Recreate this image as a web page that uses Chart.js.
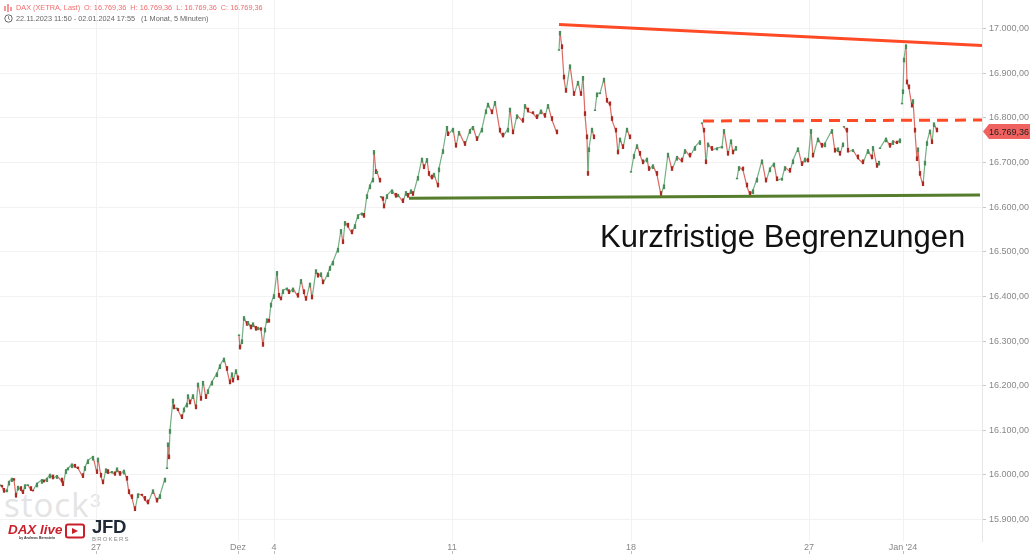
<!DOCTYPE html>
<html>
<head>
<meta charset="utf-8">
<script src="https://cdn.jsdelivr.net/npm/chart.js@4"></script>
<style>
  html, body { margin: 0; padding: 0; background: #fff; overflow: hidden; }
  body { width: 1030px; height: 554px; position: relative; font-family: "Liberation Sans", sans-serif; filter: blur(0.35px); }
  canvas { position: absolute; left: 0; top: 0; }
  .txt { position: absolute; white-space: nowrap; }
  #head1 { left: 16px; top: 3px; font-size: 7.3px; line-height: 10px; color: #f26d6d; }
  #head2 { left: 16px; top: 14px; font-size: 7.3px; line-height: 10px; color: #666; }
  #note { left: 600px; top: 218px; font-size: 31px; line-height: 38px; color: #111; }
  #stock { left: 4px; top: 483px; font-size: 33px; line-height: 44px; color: #e4e4e4; font-family: "Open Sans", sans-serif; font-weight: 400; letter-spacing: 1px; }
  #stock3 { left: 90px; top: 490px; font-size: 19px; line-height: 22px; color: #e4e4e4; }
  #dax { left: 8px; top: 521px; font-size: 13.4px; line-height: 17px; font-weight: bold; font-style: italic; color: #c9202c; }
  #daxby { left: 19px; top: 536px; font-size: 3.5px; line-height: 5px; font-weight: bold; color: #333; }
  #jfd { left: 92px; top: 516px; font-size: 18.6px; line-height: 22px; font-weight: bold; color: #1f2a36; letter-spacing: -0.3px; }
  #brokers { left: 92px; top: 536px; font-size: 6px; line-height: 7px; color: #8a8a8a; letter-spacing: 1.2px; }
  svg { position: absolute; }
</style>
</head>
<body>
<div class="txt" id="stock">stock</div>
<div class="txt" id="stock3">3</div>
<canvas id="chart" width="1030" height="554"></canvas>
<svg style="left:4px;top:4px" width="8" height="8" viewBox="0 0 8 8"><path d="M1 2v5M4 0v8M7 3v4" stroke="#f26d6d" stroke-width="1.4"/></svg>
<svg style="left:4px;top:14px" width="9" height="9" viewBox="0 0 9 9"><circle cx="4.5" cy="4.5" r="3.7" fill="none" stroke="#666"/><path d="M4.5 2.2v2.5l1.6 1" fill="none" stroke="#666" stroke-width="0.8"/></svg>
<div class="txt" id="head1">DAX (XETRA, Last)&nbsp; O: 16.769,36&nbsp; H: 16.769,36&nbsp; L: 16.769,36&nbsp; C: 16.769,36</div>
<div class="txt" id="head2">22.11.2023 11:50 - 02.01.2024 17:55&nbsp;&nbsp; (1 Monat, 5 Minuten)</div>
<div class="txt" id="note">Kurzfristige Begrenzungen</div>
<div class="txt" id="dax">DAX live</div>
<svg style="left:65px;top:523px" width="20" height="16" viewBox="0 0 20 16"><rect x="1" y="1.5" width="18" height="13" rx="2" fill="#fff" stroke="#c9202c" stroke-width="2"/><path d="M7 5l6 3-6 3z" fill="#c9202c"/></svg>
<div class="txt" id="daxby">by Andreas Bernstein</div>
<div class="txt" id="jfd">JFD</div>
<div class="txt" id="brokers">BROKERS</div>
<script>
const barNo = [
  0,2,4,7,9,12,14,16,18,21,23,25,28,31,33,37,42,44,47,50,53,57,62,63,66,68,72,75,78,83,85,88,93,97,98,101,103,106,108,112,115,117,120,124,127,129,132,135,138,142,145,148,153,157,160,165,
  166,167,168,169,170,173,174,177,178,182,184,187,188,190,193,196,198,201,203,206,208,212,217,220,224,227,230,232,233,236,238,
  238.5,239,240,242,244,247,248,251,253,256,258,261,263,265,267,269,271,274,277,279,281,283,287,289,293,298,301,304,306,310,312,316,318,321,323,328,330,333,338,341,343,345,348,352,355,358,362,364,367,370,373,374,376,377,380,
  380.5,381,383,384,387,392,396,398,403,406,408,411,413,418,422,424,427,429,432,434,438,439,443,447,448,453,456,459,465,470,473,477,482,486,488,492,495,500,503,508,510,513,517,523,525,528,533,537,541,545,548,552,557,
  558,559,560,562,564,566,570,574,578,581,583,585,587,588,589,592,594,
  594.5,595,597,600,604,607,610,612,616,618,620,623,627,630,
  630.5,631,634,637,640,643,647,649,653,657,661,664,668,672,677,682,685,690,695,700,
  701,702,704,706,708,712,717,722,724,728,731,733,736,
  736.5,737,739,743,747,750,753,757,762,766,770,774,777,782,785,790,793,798,802,805,808,811,813,818,822,825,832,835,838,840,843,
  843.5,844,847,848,853,858,863,868,872,873,877,879,
  879.5,880,886,890,893,897,900,
  901,902,903,904,906,907,909,912,913,915,917,918,920,923,925,927,930,932,934,937
];
const closes = [
  15977,15974,15962,15966,15985,15992,15989,15951,15974,15966,15959,15977,15977,15966,15965,15981,15989,15985,15992,16001,15992,15998,15985,15977,16011,16015,16024,16018,16015,15995,16018,16033,16041,16004,16037,15996,15981,16013,16004,16007,16000,16015,16000,16010,15989,15959,15948,15921,15957,15955,15944,15936,15966,15940,15955,15992,
  null,16015,16071,16037,16101,16169,16149,16149,16145,16127,16149,16160,16179,16160,16179,16149,16205,16168,16209,16172,16190,16209,16228,16246,16261,16235,16205,16228,16209,16235,16214,
  null,16313,16283,16302,16354,16336,16343,16328,16340,16325,16330,16325,16289,16328,16349,16343,16384,16403,16455,16399,16393,16414,16418,16407,16418,16399,16437,16407,16392,16429,16395,16459,16444,16452,16429,16452,16466,16478,16507,16549,16519,16567,16556,16541,16560,16582,16586,16578,16627,16649,16664,16726,16676,16679,16657,
  null,16623,16616,16599,16627,16638,16623,16628,16611,16634,16623,16638,16627,16668,16709,16687,16708,16672,16664,16675,16646,16687,16728,16780,16761,16776,16735,16769,16739,16773,16780,16750,16776,16817,16832,16810,16836,16769,16758,16776,16821,16765,16806,16791,16829,16814,16810,16799,16817,16802,16829,16795,16765,
  null,16952,16993,16956,16888,16858,16918,16851,16881,16851,16892,16806,16754,16672,16732,16776,16754,
  null,16817,16855,16855,16888,16836,16829,16795,16769,16720,16754,16732,16776,16754,
  null,16679,16717,16739,16717,16698,16709,16683,16694,16672,16627,16649,16720,16683,16713,16702,16728,16713,16735,16748,
  null,16788,16769,16698,16743,16728,16732,16735,16773,16717,16750,16720,16735,
  null,16664,16690,16683,16646,16627,16638,16664,16705,16657,16687,16698,16660,16664,16690,16679,16705,16732,16694,16709,16702,16773,16713,16754,16735,16743,16773,16724,16732,16717,16743,
  null,16780,16769,16724,16728,16709,16698,16728,16709,16735,16690,16702,
  null,16732,16754,16735,16748,16743,16752,
  null,16832,16862,16933,16963,16877,16866,16825,16840,16769,16705,16732,16672,16649,16702,16746,16772,16743,16788,16769.36
];

// drawn-in lines [start, end]
const resistanceBars = [559, 982];
const resistanceLine = [17009, 16962];
const dashedBars = [703, 982];
const dashedLine = [16793, 16795];
const supportBars = [409, 980];
const supportLine = [16620, 16627];

const priceTicks = [15900,16000,16100,16200,16300,16400,16500,16600,16700,16800,16900,17000];
const dayTicks = [96,238,274,452,631,809,903];
const dayLabels = ['27','Dez','4','11','18','27',"Jan '24"];
const lastPrice = 16769.36;

const UP = '#74b083';
const DOWN = '#dc6a64';
const BODY_UP = '#4a8c5a';
const BODY_DOWN = '#ad2a22';

function formatPrice(v) {
  return v.toLocaleString('de-DE', { minimumFractionDigits: 2, maximumFractionDigits: 2 });
}

// short candle bodies around each close
const bodies = [];
const bodyColors = [];
closes.forEach((c, i) => {
  if (c === null) return;
  const prev = closes[i - 1] === null || i === 0 ? c : closes[i - 1];
  const open = prev < c ? Math.max(prev, c - 8) : Math.min(prev, c + 8);
  bodies.push({ x: barNo[i], y: [Math.min(open, c - 1), Math.max(open, c + 1)] });
  bodyColors.push(prev <= c ? BODY_UP : BODY_DOWN);
});

const pricePoints = barNo.map((b, i) => ({ x: b, y: closes[i] }));

function twoPoints(xs, ys) {
  return [{ x: xs[0], y: ys[0] }, { x: xs[1], y: ys[1] }];
}

const priceTag = {
  id: 'priceTag',
  afterDraw(chart) {
    const ctx = chart.ctx;
    const y = chart.scales.y.getPixelForValue(lastPrice);
    ctx.save();
    ctx.fillStyle = '#f0625f';
    ctx.beginPath();
    ctx.moveTo(983, y);
    ctx.lineTo(989, y - 7.5);
    ctx.lineTo(1030, y - 7.5);
    ctx.lineTo(1030, y + 7.5);
    ctx.lineTo(989, y + 7.5);
    ctx.closePath();
    ctx.fill();
    ctx.fillStyle = '#222';
    ctx.font = '9px "Liberation Sans"';
    ctx.textBaseline = 'middle';
    ctx.fillText(formatPrice(lastPrice), 989, y + 0.5);
    // day tick marks sit under the labels
    ctx.strokeStyle = '#bbb';
    dayTicks.forEach(d => {
      const x = Math.round(chart.scales.x.getPixelForValue(d)) + 0.5;
      ctx.beginPath();
      ctx.moveTo(x, 551);
      ctx.lineTo(x, 554);
      ctx.stroke();
    });
    ctx.restore();
  }
};

new Chart(document.getElementById('chart').getContext('2d'), {
  data: {
    datasets: [
      { type: 'line', data: twoPoints(resistanceBars, resistanceLine), borderColor: '#ff4a26', borderWidth: 3, pointRadius: 0, order: 1 },
      { type: 'line', data: twoPoints(dashedBars, dashedLine), borderColor: '#ff4a26', borderWidth: 3, borderDash: [11, 7], pointRadius: 0, order: 1 },
      { type: 'line', data: twoPoints(supportBars, supportLine), borderColor: '#557d2c', borderWidth: 3, pointRadius: 0, order: 1 },
      {
        type: 'bar',
        data: bodies,
        backgroundColor: bodyColors,
        barThickness: 1.6,
        order: 2
      },
      {
        type: 'line',
        data: pricePoints,
        borderWidth: 1.2,
        pointRadius: 0,
        spanGaps: false,
        tension: 0,
        segment: {
          borderColor: c => (c.p1.parsed.y >= c.p0.parsed.y ? UP : DOWN)
        },
        order: 3
      }
    ]
  },
  options: {
    responsive: false,
    animation: false,
    layout: { padding: 0, autoPadding: false },
    plugins: { legend: { display: false }, tooltip: { enabled: false } },
    scales: {
      x: {
        type: 'linear',
        min: 0,
        max: 982,
        offset: false,
        grid: { color: '#f2f2f2', drawTicks: false, offset: false },
        border: { display: false },
        afterBuildTicks: s => { s.ticks = dayTicks.map(v => ({ value: v })); },
        afterFit: s => { s.height = 13; s.paddingLeft = 0; s.paddingRight = 0; },
        ticks: {
          autoSkip: false,
          maxRotation: 0,
          padding: 1,
          color: '#888',
          font: { family: 'Liberation Sans', size: 9 },
          callback: v => dayLabels[dayTicks.indexOf(v)]
        }
      },
      y: {
        position: 'right',
        min: 15852,
        max: 17064,
        grid: { color: '#f2f2f2', tickColor: '#c8c8c8', tickLength: 4 },
        border: { color: '#e6e6e6' },
        afterBuildTicks: s => { s.ticks = priceTicks.map(v => ({ value: v })); },
        afterFit: s => { s.width = 48; s.paddingTop = 0; s.paddingBottom = 0; },
        ticks: {
          padding: 3,
          color: '#888',
          font: { family: 'Liberation Sans', size: 9 },
          callback: v => formatPrice(v)
        }
      }
    }
  },
  plugins: [priceTag]
});
</script>
</body>
</html>
